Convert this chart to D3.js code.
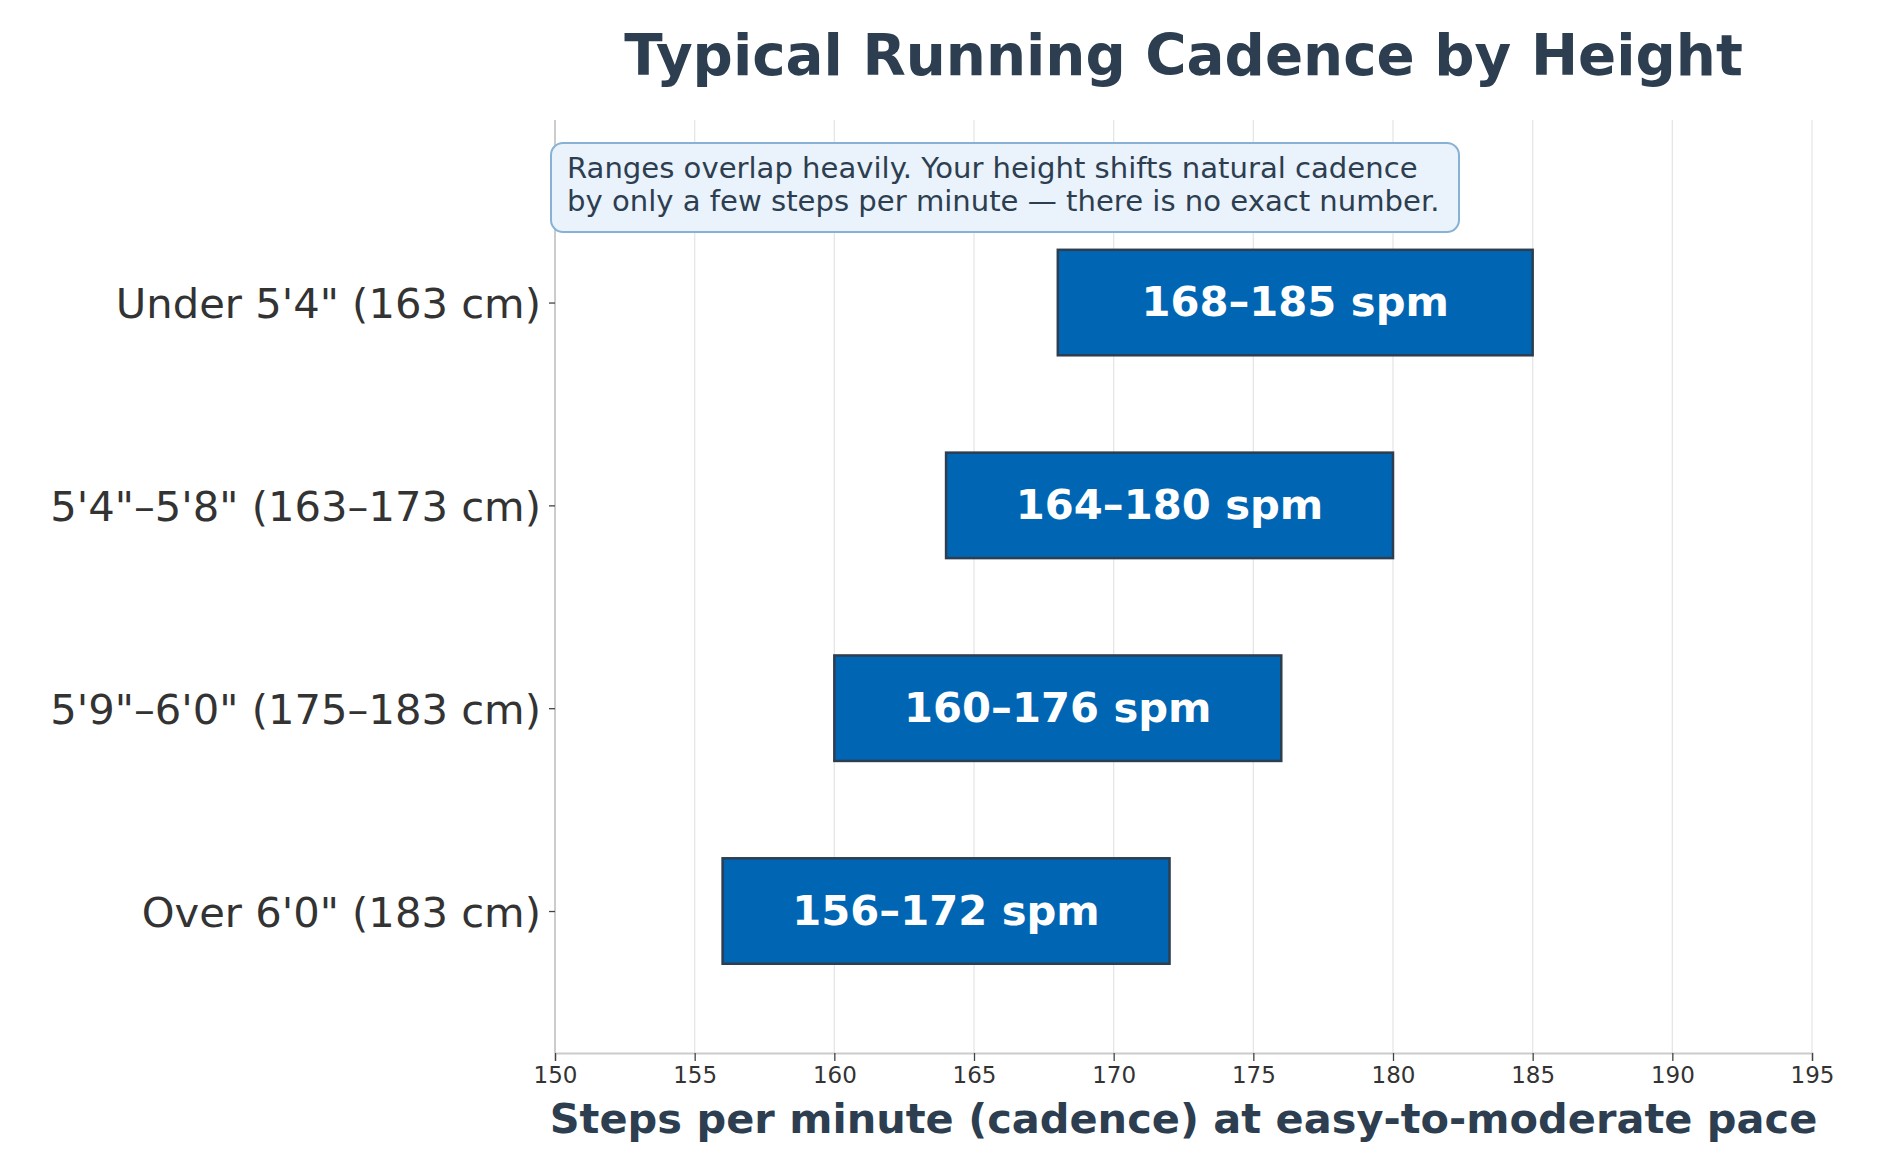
<!DOCTYPE html>
<html>
<head>
<meta charset="utf-8">
<script src="https://cdn.jsdelivr.net/npm/d3@7"></script>
<style>
  html, body { margin: 0; padding: 0; background: #ffffff; }
  svg { display: block; font-family: "DejaVu Sans", sans-serif; }
</style>
</head>
<body>
<svg id="chart" width="1886" height="1176"></svg>
<script>
// ---- data ----
const categories = [
  "Under 5'4\" (163 cm)",
  "5'4\"–5'8\" (163–173 cm)",
  "5'9\"–6'0\" (175–183 cm)",
  "Over 6'0\" (183 cm)"
];
const lowValues  = [168, 164, 160, 156];
const highValues = [185, 180, 176, 172];
const barLabels  = ["168–185 spm", "164–180 spm", "160–176 spm", "156–172 spm"];
const xTickValues = [150, 155, 160, 165, 170, 175, 180, 185, 190, 195];
const titleText = "Typical Running Cadence by Height";
const xLabelText = "Steps per minute (cadence) at easy-to-moderate pace";
const noteLines = [
  "Ranges overlap heavily. Your height shifts natural cadence",
  "by only a few steps per minute — there is no exact number."
];

(function () {
// ---- layout ----
const svg = d3.select("#chart");
const pLeft = 555, pRight = 1812, pTop = 120, pBottom = 1053;
const dark = "#2c3e50";

const x = d3.scaleLinear().domain([150, 195]).range([pLeft, pRight]);
const y = d3.scaleLinear().domain([-0.7, 3.9]).range([pBottom, pTop]);
const rowPos = i => categories.length - 1 - i;
const barH = 0.52;

// grid
svg.append("g").selectAll("line").data(xTickValues).join("line")
  .attr("x1", d => x(d)).attr("x2", d => x(d))
  .attr("y1", pTop).attr("y2", pBottom)
  .attr("stroke", "#e6e6e6").attr("stroke-width", 1.3);

// x axis
const xAxis = svg.append("g").attr("transform", `translate(0,${pBottom})`)
  .call(d3.axisBottom(x).tickValues(xTickValues).tickSize(8).tickPadding(6).tickFormat(d3.format("d")));
xAxis.select(".domain").attr("stroke", "#cccccc").attr("stroke-width", 2);
xAxis.selectAll(".tick line").attr("stroke", "#444").attr("stroke-width", 1.3);
xAxis.selectAll(".tick text").attr("font-size", 23).attr("fill", "#333")
  .attr("font-family", "DejaVu Sans");

// y axis
const yAxis = svg.append("g").attr("transform", `translate(${pLeft},0)`)
  .call(d3.axisLeft(y).tickValues(categories.map((c, i) => rowPos(i)))
    .tickFormat(v => categories[categories.length - 1 - v]).tickSize(6).tickPadding(8));
yAxis.select(".domain").attr("stroke", "#cccccc").attr("stroke-width", 2)
  .attr("d", `M0,${pTop}V${pBottom}`);
yAxis.selectAll(".tick line").attr("stroke", "#444").attr("stroke-width", 1.3);
yAxis.selectAll(".tick text").attr("font-size", 41.7).attr("fill", "#333")
  .attr("font-family", "DejaVu Sans").attr("dy", "0.37em");

// bars
svg.append("g").selectAll("rect").data(categories).join("rect")
  .attr("x", (d, i) => x(lowValues[i]))
  .attr("width", (d, i) => x(highValues[i]) - x(lowValues[i]))
  .attr("y", (d, i) => y(rowPos(i) + barH / 2))
  .attr("height", (d, i) => y(rowPos(i) - barH / 2) - y(rowPos(i) + barH / 2))
  .attr("fill", "#0066b3")
  .attr("stroke", dark).attr("stroke-width", 2.5);

// bar labels
svg.append("g").selectAll("text").data(categories).join("text")
  .attr("x", (d, i) => (x(lowValues[i]) + x(highValues[i])) / 2)
  .attr("y", (d, i) => y(rowPos(i)))
  .attr("dy", "0.33em")
  .attr("text-anchor", "middle")
  .attr("font-size", 41.7)
  .attr("font-weight", "bold")
  .attr("fill", "#ffffff")
  .text((d, i) => barLabels[i]);

// annotation box
const note = svg.append("g");
note.append("rect")
  .attr("x", 551).attr("y", 143).attr("width", 908).attr("height", 89)
  .attr("rx", 12).attr("ry", 12)
  .attr("fill", "#eaf2fb").attr("stroke", "#87b2d6").attr("stroke-width", 2);
note.selectAll("text").data(noteLines).join("text")
  .attr("x", 567).attr("y", (d, i) => 178 + i * 33.4)
  .attr("font-size", 29.1).attr("fill", dark)
  .text(d => d);

// title
svg.append("text")
  .attr("x", (pLeft + pRight) / 2).attr("y", 75)
  .attr("text-anchor", "middle")
  .attr("font-size", 56.3).attr("font-weight", "bold").attr("fill", dark)
  .text(titleText);

// x label
svg.append("text")
  .attr("x", (pLeft + pRight) / 2).attr("y", 1133)
  .attr("text-anchor", "middle")
  .attr("font-size", 41.5).attr("font-weight", "bold").attr("fill", dark)
  .text(xLabelText);
})();
</script>
</body>
</html>
